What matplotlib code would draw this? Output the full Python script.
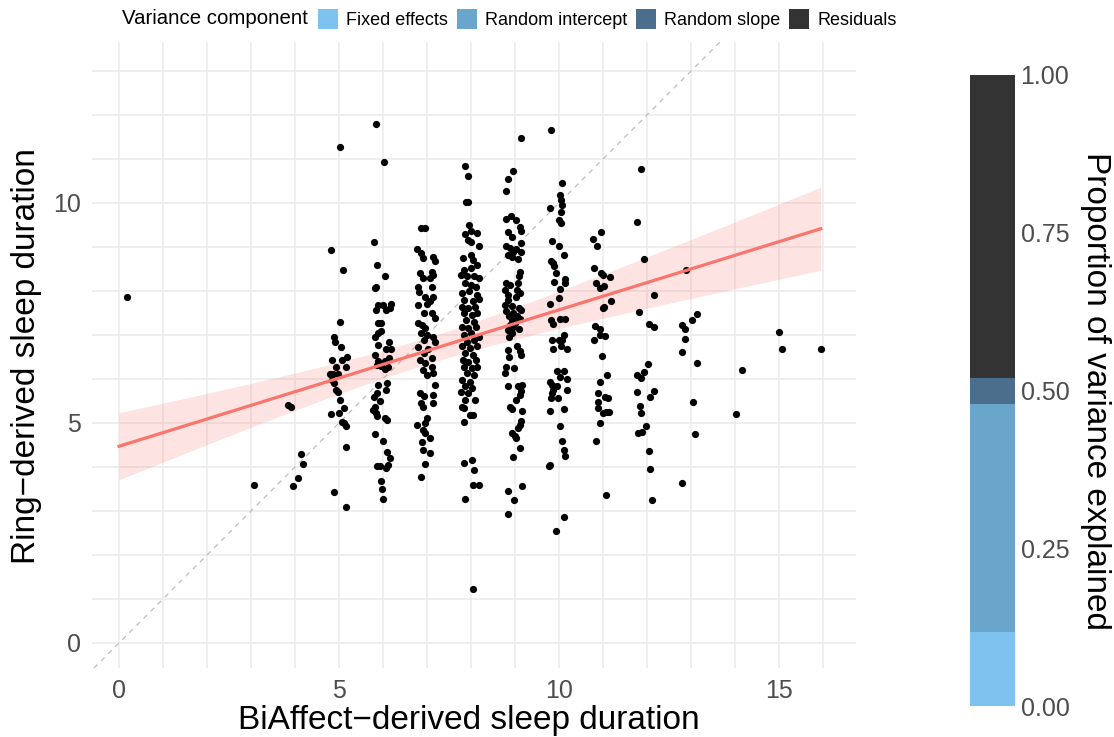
import numpy as np
import matplotlib
matplotlib.use("Agg")
import matplotlib.pyplot as plt
from matplotlib.patches import Patch

plt.rcParams['font.family'] = ['Liberation Sans', 'DejaVu Sans']

# nightly sleep duration: BiAffect estimate (x) vs ring estimate (y), grouped by BiAffect hour
lone_x = [0.18, 3.07, 3.85, 3.90, 3.95, 4.06, 4.14, 4.17, 14.03, 14.15, 15.01, 15.07, 15.95]
lone_y = [7.86, 3.59, 5.41, 5.36, 3.57, 3.74, 4.30, 4.07, 5.20, 6.20, 7.07, 6.68, 6.69]

h5_x = [5.02, 4.81, 5.08, 5.02, 4.89, 4.91, 5.05, 5.17, 4.83, 5.06, 4.92, 5.16, 4.80, 4.87, 4.97,
        4.83, 4.89, 4.92, 4.97, 5.02, 5.11, 4.81, 5.01, 5.06, 5.12, 5.15, 5.16, 4.89, 5.15]
h5_y = [11.26, 8.92, 8.47, 7.29, 6.95, 6.83, 6.72, 6.49, 6.42, 6.42, 6.27, 6.28, 6.11, 6.11, 6.11,
        5.98, 5.90, 5.75, 5.71, 5.51, 5.33, 5.20, 5.22, 5.03, 4.99, 4.93, 4.45, 3.44, 3.08]

h6_x = [5.83, 6.03, 5.80, 5.86, 6.05, 5.83, 5.81, 5.89, 6.01, 6.18, 5.83, 6.06, 6.16, 5.88, 5.95,
        5.95, 5.89, 5.82, 6.14, 5.88, 6.07, 6.18, 5.82, 6.14, 5.89, 6.05, 5.86, 5.95, 6.12, 6.05,
        5.88, 6.10, 6.07, 5.86, 5.80, 5.93, 5.82, 5.78, 5.84, 5.87, 6.05, 6.08, 5.82, 6.00, 6.10,
        6.16, 5.86, 5.93, 6.06, 6.11, 5.95, 5.97, 6.01]
h6_y = [11.80, 10.94, 9.11, 8.59, 8.35, 8.10, 8.06, 7.68, 7.68, 7.70, 7.57, 7.57, 7.62, 7.28, 7.27,
        7.09, 7.04, 6.96, 6.85, 6.76, 6.69, 6.69, 6.54, 6.48, 6.40, 6.40, 6.31, 6.30, 6.28, 6.22,
        5.86, 5.90, 5.75, 5.69, 5.60, 5.49, 5.36, 5.30, 5.22, 5.15, 5.12, 5.07, 4.75, 4.58, 4.34,
        4.21, 4.02, 4.02, 3.97, 4.05, 3.68, 3.49, 3.28]

h7_x = [6.86, 6.95, 6.78, 6.86, 6.90, 7.13, 7.17, 6.84, 7.11, 7.14, 6.90, 7.07, 6.80, 7.11, 6.82,
        6.95, 7.14, 7.07, 6.80, 7.00, 6.92, 7.12, 7.17, 6.80, 6.88, 6.95, 6.86, 7.00, 7.13, 7.18,
        6.93, 6.80, 7.03, 6.92, 7.11, 6.84, 6.95, 7.11, 6.90, 7.14, 6.99, 7.18, 6.83, 6.92, 7.13,
        6.86, 7.14, 6.90, 6.99, 6.78, 6.95, 6.90, 6.95, 7.07, 6.88, 6.90, 7.07, 6.95, 6.86]
h7_y = [9.42, 9.42, 8.95, 8.87, 8.74, 8.78, 8.69, 8.40, 8.44, 8.36, 8.29, 8.29, 8.10, 8.10, 7.98,
        7.87, 7.87, 7.78, 7.67, 7.70, 7.49, 7.49, 7.38, 7.27, 7.23, 7.15, 7.05, 7.00, 6.96, 6.85,
        6.89, 6.72, 6.67, 6.58, 6.47, 6.43, 6.37, 6.28, 6.20, 6.13, 6.09, 5.86, 5.67, 5.61, 5.64,
        5.45, 5.45, 5.37, 5.11, 4.95, 4.99, 4.84, 4.78, 4.65, 4.57, 4.39, 4.31, 4.07, 3.77]

h8_x = [7.86, 7.92, 7.89, 7.94, 7.96, 7.86, 8.01, 8.14, 7.92, 7.99, 8.19, 7.81, 8.01, 8.05, 8.13,
        7.84, 7.99, 7.77, 7.90, 8.07, 8.17, 7.86, 8.01, 8.11,
        7.80, 7.96, 8.13, 7.85, 8.05, 8.18, 7.80, 7.94, 8.09, 7.83, 8.02, 8.14, 7.89, 8.07, 7.79,
        7.94, 8.11, 7.83, 7.99, 8.17, 7.90, 8.07, 7.79, 7.98, 8.14, 7.86, 8.05, 7.81, 7.94, 8.11,
        7.85, 8.02, 8.14, 7.90, 8.07, 7.79, 7.98, 7.86, 8.02, 7.77, 7.94, 7.86, 8.09, 7.79, 7.84,
        7.98, 8.05, 7.84, 7.84, 8.02, 8.07, 8.04, 8.17, 7.86, 8.04]
h8_y = [10.83, 10.62, 10.01, 10.01, 9.50, 9.30, 9.37, 9.31, 9.16, 9.12, 9.01, 8.74, 8.82, 8.70, 8.59,
        8.48, 8.52, 8.36, 8.33, 8.34, 8.29, 8.18, 8.14, 8.10,
        7.95, 7.99, 7.91, 7.80, 7.76, 7.81, 7.64, 7.61, 7.64, 7.49, 7.45, 7.49, 7.34, 7.30, 7.19,
        7.15, 7.19, 7.00, 7.04, 6.96, 6.85, 6.89, 6.74, 6.70, 6.74, 6.58, 6.55, 6.43, 6.39, 6.43,
        6.28, 6.24, 6.28, 6.13, 6.09, 5.98, 5.94, 5.83, 5.79, 5.71, 5.67, 5.52, 5.52, 5.37, 5.33,
        5.18, 5.18, 5.01, 4.08, 4.16, 3.93, 3.59, 3.59, 3.27, 1.22]

h9_x = [9.13, 8.95, 8.84, 8.80, 8.80, 8.90, 9.03, 9.11, 9.13, 8.83, 8.92, 8.80, 8.88, 8.95, 9.13,
        9.03, 9.14, 8.83, 8.93, 9.07, 9.11, 9.08, 8.80, 8.88, 9.07, 8.78, 9.05, 8.83, 9.11, 9.03,
        8.84, 8.78, 8.92, 9.08, 9.14, 8.80, 8.95, 8.86, 9.05, 8.92, 9.11, 9.01, 8.88, 8.95, 9.08,
        8.83, 8.93, 8.86, 9.05, 8.84, 9.11, 9.13, 8.86, 8.80, 8.97, 8.77, 8.83, 9.07, 9.16, 9.13,
        9.11, 9.03, 8.88, 8.93, 9.16, 9.13, 9.11, 9.07, 8.93, 8.99, 9.03, 9.11, 8.95, 8.84, 9.16,
        8.98, 8.83]
h9_y = [11.48, 10.73, 10.55, 10.26, 9.63, 9.70, 9.61, 9.45, 9.37, 9.33, 9.22, 9.02, 8.98, 8.89, 9.08,
        8.95, 8.89, 8.82, 8.77, 8.72, 8.44, 8.33, 8.18, 8.14, 8.18, 8.02, 8.02, 7.91, 7.95, 7.87,
        7.80, 7.68, 7.66, 7.61, 7.57, 7.55, 7.49, 7.42, 7.42, 7.34, 7.36, 7.28, 7.23, 7.17, 7.13,
        7.11, 7.04, 6.96, 6.74, 6.66, 6.64, 6.55, 6.49, 6.28, 6.24, 6.14, 5.84, 5.83, 5.86, 5.73,
        5.64, 5.51, 5.37, 5.31, 5.26, 5.05, 4.95, 4.88, 4.78, 4.70, 4.65, 4.42, 4.23, 3.46, 3.57,
        3.25, 2.93]

h10_x = [9.81, 10.07, 10.02, 10.04, 10.07, 9.79, 10.05, 9.99, 10.04, 9.84, 9.99, 10.11, 9.81, 9.86, 9.89,
         9.94, 10.14, 9.89, 10.14, 10.02, 9.99, 9.79, 9.81, 9.86, 10.02, 10.14, 10.11, 10.07, 9.84, 9.99,
         10.04, 9.86, 10.17, 9.96, 10.11, 10.02, 10.17, 9.79, 9.83, 9.96, 9.86, 10.17, 9.84, 9.81, 9.98,
         9.79, 10.11, 10.02, 10.07, 10.11, 10.13, 9.79, 9.77, 10.11, 9.94]
h10_y = [11.66, 10.46, 10.18, 10.07, 9.95, 9.88, 9.80, 9.61, 9.54, 9.14, 9.02, 8.82, 8.67, 8.63, 8.56,
         8.40, 8.27, 8.21, 8.18, 8.04, 7.83, 7.70, 7.34, 7.25, 7.36, 7.36, 7.00, 6.89, 6.89, 6.89,
         6.75, 6.67, 6.69, 6.19, 6.19, 6.05, 5.99, 5.94, 5.86, 5.84, 5.75, 5.75, 5.69, 5.56, 5.56,
         5.28, 5.31, 4.93, 4.59, 4.39, 4.25, 4.05, 4.03, 2.87, 2.55]

h11_x = [10.95, 10.78, 10.87, 10.80, 10.95, 10.99, 10.84, 10.92, 11.02, 11.16, 11.02, 11.01, 11.17,
         10.82, 10.92, 10.80, 10.92, 11.05, 10.98, 11.08, 10.93, 10.89, 11.05, 11.12, 10.88, 10.89,
         11.01, 11.07, 11.14, 10.93, 10.83, 11.06]
h11_y = [9.33, 9.18, 9.01, 8.51, 8.40, 8.36, 8.19, 8.06, 8.12, 8.31, 7.64, 7.61, 7.77,
         7.20, 7.13, 6.89, 7.00, 6.98, 6.52, 6.09, 5.94, 5.67, 5.60, 5.56, 5.48, 5.33,
         5.22, 5.24, 5.24, 4.99, 4.58, 3.37]

h12_x = [11.86, 11.78, 11.92, 12.16, 11.82, 12.05, 12.16, 12.03, 11.93, 11.78, 11.86, 11.78, 12.16,
         12.07, 11.84, 11.86, 11.98, 11.80, 11.88, 12.05, 12.07, 12.11]
h12_y = [10.77, 9.56, 8.73, 7.91, 7.52, 7.25, 7.19, 6.34, 6.15, 6.09, 6.02, 5.70, 5.73,
         5.60, 5.39, 5.22, 4.93, 4.77, 4.80, 4.37, 3.96, 3.25]

h13_x = [12.88, 13.14, 13.02, 12.79, 12.86, 12.87, 12.79, 13.13, 13.05, 13.09, 12.80]
h13_y = [8.48, 7.47, 7.34, 7.23, 7.13, 6.90, 6.61, 6.36, 5.48, 4.74, 3.64]

# fitted line and its confidence band
fit_intercept = 4.47
fit_slope = 0.31
fit_range = (0.0, 15.95)
band_se_min = 0.30
band_se_slope = 0.10
band_center = 7.0

# variance decomposition (proportions)
components = ['Fixed effects', 'Random intercept', 'Random slope', 'Residuals']
proportions = [0.117, 0.362, 0.041, 0.480]
comp_colors = ['#7EC2EF', '#6AA5CB', '#4B6E8D', '#333333']

bia = np.concatenate([lone_x, h5_x, h6_x, h7_x, h8_x, h9_x, h10_x, h11_x, h12_x, h13_x])
ring = np.concatenate([lone_y, h5_y, h6_y, h7_y, h8_y, h9_y, h10_y, h11_y, h12_y, h13_y])

W, H = 1114, 737
fig = plt.figure(figsize=(W / 100, H / 100), dpi=100)

ax = fig.add_axes([92.2 / W, 69 / H, 763.4 / W, 626.1 / H])
ax.set_xlim(-0.61, 16.74)
ax.set_ylim(-0.57, 13.66)

for v in range(0, 17):
    ax.axvline(v, color='#EBEBEB', lw=1.1, zorder=0)
for v in range(0, 14):
    ax.axhline(v, color='#EBEBEB', lw=1.1, zorder=0)

ax.axline((0, 0), slope=1, color='#BDBDBD', lw=0.9, ls=(0, (4, 4)), zorder=1)

xs = np.linspace(fit_range[0], fit_range[1], 200)
fit = fit_intercept + fit_slope * xs
half = np.sqrt(band_se_min ** 2 + (band_se_slope * (xs - band_center)) ** 2)
ax.fill_between(xs, fit - half, fit + half, color='#F8766D', alpha=0.2, lw=0, zorder=2)
ax.plot(xs, fit, color='#F8766D', lw=2.3, zorder=4)

ax.scatter(bia, ring, s=27, color='black', linewidths=0, zorder=3)

ax.set_xticks([0, 5, 10, 15])
ax.set_yticks([0, 5, 10])
ax.tick_params(length=0, labelsize=18, labelcolor='#4D4D4D', pad=8)
for s in ax.spines.values():
    s.set_visible(False)

fig.text(469 / W, 1 - 720 / H, 'BiAffect\u2212derived sleep duration', fontsize=24,
         ha='center', va='center')
fig.text(27 / W, 1 - 356 / H, 'Ring\u2212derived sleep duration', fontsize=24,
         ha='center', va='center', rotation=90)

# stacked proportion bar
bx = fig.add_axes([970 / W, 31 / H, 45 / W, 631 / H])
bottoms = np.concatenate([[0], np.cumsum(proportions)[:-1]])
bx.bar([0] * len(proportions), proportions, bottom=bottoms, width=1.0, color=comp_colors, lw=0)
bx.set_xlim(-0.5, 0.5)
bx.set_ylim(0, 1)
bx.set_xticks([])
bx.set_yticks([0, 0.25, 0.5, 0.75, 1.0])
bx.set_yticklabels(['0.00', '0.25', '0.50', '0.75', '1.00'])
bx.yaxis.tick_right()
bx.tick_params(length=0, labelsize=18, labelcolor='#4D4D4D', pad=4)
for s in bx.spines.values():
    s.set_visible(False)
fig.text(1095 / W, 1 - 391 / H, 'Proportion of variance explained', fontsize=24,
         ha='center', va='center', rotation=270)

# legend across the top
fig.text(122 / W, 1 - 19 / H, 'Variance component', fontsize=14.7, ha='left', va='center')
handles = [Patch(facecolor=c, edgecolor='none') for c in comp_colors]
fig.legend(handles, components, ncol=4, loc='center left', bbox_to_anchor=(318 / W, 1 - 19 / H),
           frameon=False, fontsize=13, handlelength=1.1, handleheight=1.4, handletextpad=0.45,
           columnspacing=0.5, borderpad=0, borderaxespad=0)

fig.savefig('out.png', dpi=100)
